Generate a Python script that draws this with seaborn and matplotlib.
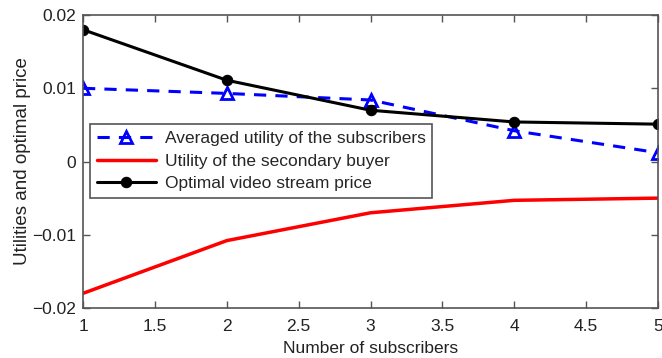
import matplotlib
matplotlib.use("Agg")
import matplotlib.pyplot as plt
import seaborn as sns
import pandas as pd

subscribers = [1, 2, 3, 4, 5]
avg_utility_subscribers = [0.0100, 0.0093, 0.0084, 0.0042, 0.0012]
utility_secondary_buyer = [-0.0180, -0.0108, -0.0070, -0.0053, -0.0050]
optimal_price = [0.0180, 0.0111, 0.0070, 0.0054, 0.0051]

x_ticks = [1, 1.5, 2, 2.5, 3, 3.5, 4, 4.5, 5]
x_tick_labels = ["1", "1.5", "2", "2.5", "3", "3.5", "4", "4.5", "5"]
y_ticks = [-0.02, -0.01, 0, 0.01, 0.02]
y_tick_labels = ["\u22120.02", "\u22120.01", "0", "0.01", "0.02"]

labels = ["Averaged utility of the subscribers",
          "Utility of the secondary buyer",
          "Optimal video stream price"]

sns.set_style("white")
plt.rcParams["font.family"] = ["Liberation Sans", "DejaVu Sans"]

fig = plt.figure(figsize=(6.62, 3.58), dpi=100)
ax = fig.add_axes([0.1254, 0.1397, 0.8686, 0.8183])

df_blue = pd.DataFrame({"x": subscribers, "y": avg_utility_subscribers})
df_red = pd.DataFrame({"x": subscribers, "y": utility_secondary_buyer})
df_black = pd.DataFrame({"x": subscribers, "y": optimal_price})

sns.lineplot(data=df_blue, x="x", y="y", ax=ax, color="#0000ff", lw=2.2,
             linestyle=(0, (4, 3)), marker="^", markersize=9,
             markerfacecolor="none", markeredgecolor="#0000ff",
             markeredgewidth=2, label=labels[0])
sns.lineplot(data=df_red, x="x", y="y", ax=ax, color="#ff0000", lw=2.5,
             label=labels[1])
sns.lineplot(data=df_black, x="x", y="y", ax=ax, color="black", lw=2.2,
             marker="o", markersize=7.5, markeredgecolor="black",
             label=labels[2])

ax.set_xlim(1, 5)
ax.set_ylim(-0.02, 0.02)
ax.set_xticks(x_ticks)
ax.set_xticklabels(x_tick_labels)
ax.set_yticks(y_ticks)
ax.set_yticklabels(y_tick_labels)
ax.tick_params(direction="in", length=5, width=1.0, bottom=True, left=True,
               top=True, right=True, labelsize=12.5, colors="#555555",
               labelcolor="#222222")
ax.tick_params(axis="x", pad=8)
ax.tick_params(axis="y", pad=5)
for s in ax.spines.values():
    s.set_color("#555555")
    s.set_linewidth(1.2)

ax.set_xlabel("Number of subscribers", fontsize=12.5, labelpad=5, color="#222222")
ax.set_ylabel("Utilities and optimal price", fontsize=13.5, labelpad=1, color="#222222")

leg = ax.legend(loc="upper left", bbox_to_anchor=(0.012, 0.627), fontsize=12.5,
                frameon=True, fancybox=False, framealpha=1, edgecolor="#555555",
                borderpad=0.4, labelspacing=0.42, handlelength=3.4,
                handletextpad=0.5, borderaxespad=0)
leg.get_frame().set_linewidth(1.2)

fig.savefig("out.png", dpi=100)
